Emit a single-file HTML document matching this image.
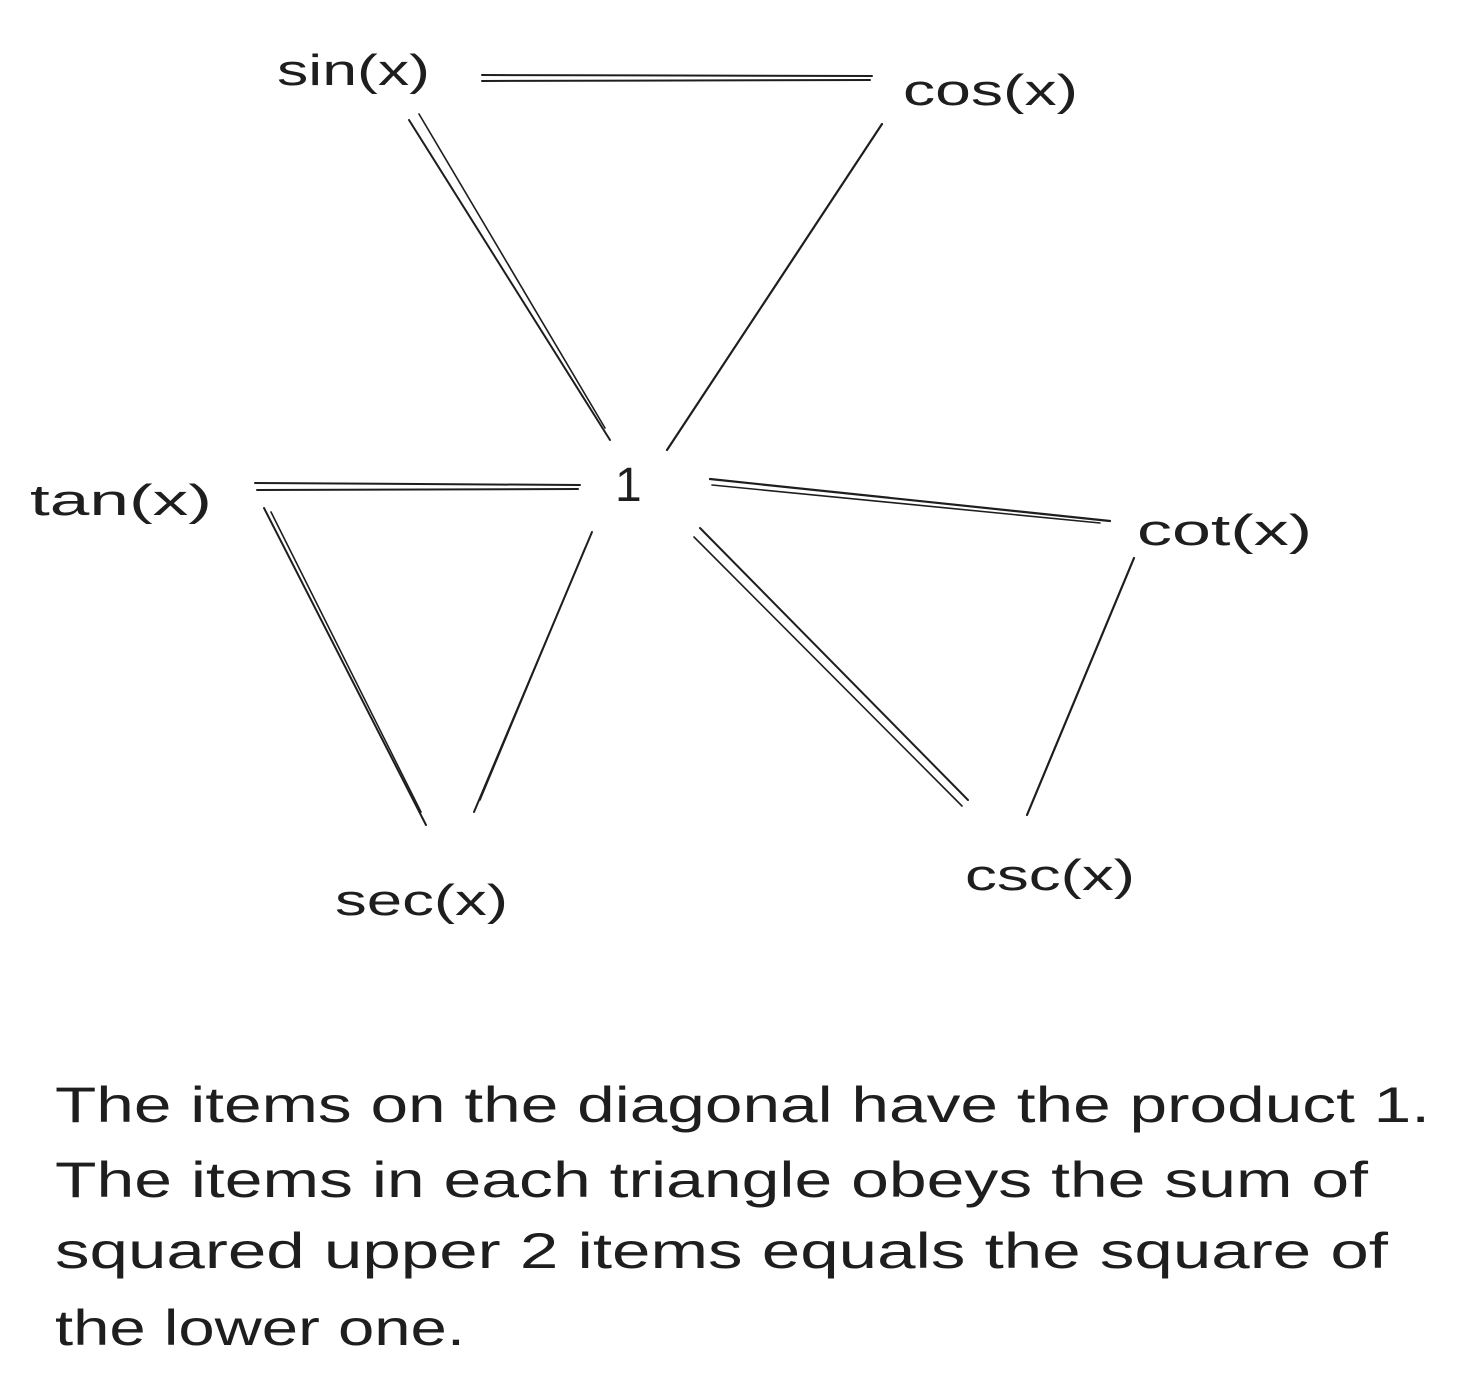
<!DOCTYPE html>
<html>
<head>
<meta charset="utf-8">
<style>
  html, body { margin: 0; padding: 0; background: #ffffff; }
  svg { display: block; }
  text { font-family: "Liberation Sans", "DejaVu Sans", sans-serif; fill: #1e1e1e; }
  line { stroke: #1e1e1e; stroke-linecap: round; }
</style>
</head>
<body>
<svg width="1460" height="1395" viewBox="0 0 1460 1395" xmlns="http://www.w3.org/2000/svg">
  <g>
    <g>
      <line x1="482" y1="75" x2="872" y2="76" stroke-width="2"/>
      <line x1="482" y1="81" x2="870" y2="80" stroke-width="2"/>
    </g>
    <g>
      <line x1="409" y1="120" x2="610" y2="440" stroke-width="2"/>
      <line x1="419" y1="114" x2="605" y2="428" stroke-width="1.6"/>
    </g>
    <g>
      <line x1="882" y1="124" x2="667" y2="450" stroke-width="2.2"/>
    </g>
    <g>
      <line x1="255" y1="483" x2="580" y2="485" stroke-width="2"/>
      <line x1="257" y1="490" x2="578" y2="489" stroke-width="2"/>
    </g>
    <g>
      <line x1="710" y1="479" x2="1110" y2="521" stroke-width="2.2"/>
      <line x1="712" y1="485" x2="1100" y2="523" stroke-width="1.6"/>
    </g>
    <g>
      <line x1="264" y1="508" x2="426" y2="825" stroke-width="2"/>
      <line x1="271" y1="512" x2="421" y2="812" stroke-width="1.6"/>
    </g>
    <g>
      <line x1="592" y1="532" x2="474" y2="812" stroke-width="2"/>
      <line x1="585" y1="548" x2="480" y2="800" stroke-width="1.6"/>
    </g>
    <g>
      <line x1="700" y1="528" x2="968" y2="800" stroke-width="2"/>
      <line x1="694" y1="537" x2="962" y2="806" stroke-width="1.6"/>
    </g>
    <g>
      <line x1="1134" y1="558" x2="1027" y2="815" stroke-width="2.2"/>
    </g>
  </g>

  <g font-size="44">
    <text x="277" y="85" textLength="153" lengthAdjust="spacingAndGlyphs">sin(x)</text>
    <text x="903" y="105" textLength="175" lengthAdjust="spacingAndGlyphs">cos(x)</text>
    <text x="30" y="515" textLength="182" lengthAdjust="spacingAndGlyphs">tan(x)</text>
    <text x="615" y="501" font-size="48">1</text>
    <text x="1137" y="545" textLength="175" lengthAdjust="spacingAndGlyphs">cot(x)</text>
    <text x="335" y="915" textLength="173" lengthAdjust="spacingAndGlyphs">sec(x)</text>
    <text x="965" y="890" textLength="170" lengthAdjust="spacingAndGlyphs">csc(x)</text>
  </g>

  <g font-size="50">
    <text x="55" y="1122" textLength="1375" lengthAdjust="spacingAndGlyphs">The items on the diagonal have the product 1.</text>
    <text x="55" y="1197" textLength="1313" lengthAdjust="spacingAndGlyphs">The items in each triangle obeys the sum of</text>
    <text x="55" y="1268" textLength="1333" lengthAdjust="spacingAndGlyphs">squared upper 2 items equals the square of</text>
    <text x="55" y="1345" textLength="410" lengthAdjust="spacingAndGlyphs">the lower one.</text>
  </g>
</svg>
</body>
</html>
